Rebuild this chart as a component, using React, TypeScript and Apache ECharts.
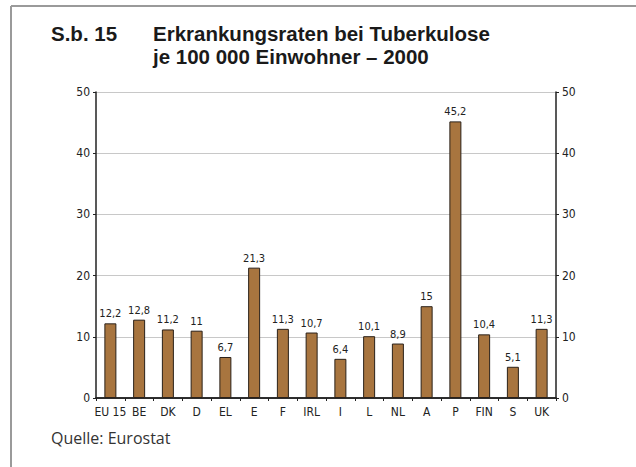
import React, { useEffect, useRef } from "react";
import * as echarts from "echarts";

const categories = ["EU 15", "BE", "DK", "D", "EL", "E", "F", "IRL", "I", "L", "NL", "A", "P", "FIN", "S", "UK"];
const values = [12.2, 12.8, 11.2, 11, 6.7, 21.3, 11.3, 10.7, 6.4, 10.1, 8.9, 15, 45.2, 10.4, 5.1, 11.3];
const yTicks = [0, 10, 20, 30, 40, 50];
const titleLine1Prefix = "S.b. 15";
const titleLine1 = "Erkrankungsraten bei Tuberkulose";
const titleLine2 = "je 100 000 Einwohner – 2000";
const sourceText = "Quelle: Eurostat";

const narrow = "'Liberation Sans Narrow', 'DejaVu Sans Condensed', 'Liberation Sans', sans-serif";
const sans = "'Open Sans', 'Noto Sans', sans-serif";
const titleFont = "'Liberation Sans', Arial, sans-serif";

export default function App() {
  const ref = useRef<HTMLDivElement>(null);
  useEffect(() => {
    if (!ref.current) return;
    const chart = echarts.init(ref.current, null, { renderer: "svg" });
    const fmt = (v: number) => String(v).replace(".", ",");
    chart.setOption({
      animation: false,
      backgroundColor: "#fff",
      grid: { left: 96, right: 80, top: 92, bottom: 69, containLabel: false },
      xAxis: [
        {
          type: "category",
          data: categories,
          position: "bottom",
          axisLine: { show: true, lineStyle: { color: "#222", width: 1.5 } },
          axisTick: { show: true, length: 3, alignWithLabel: false, lineStyle: { color: "#222" } },
          axisLabel: { color: "#222", fontSize: 12, fontFamily: narrow, margin: 8, interval: 0 },
        },
        {
          type: "category",
          data: categories,
          position: "top",
          axisLine: { show: true, lineStyle: { color: "#222", width: 1.5 } },
          axisTick: { show: false },
          axisLabel: { show: false },
        },
      ],
      yAxis: [
        {
          type: "value",
          min: yTicks[0],
          max: yTicks[yTicks.length - 1],
          interval: 10,
          position: "left",
          axisLine: { show: true, lineStyle: { color: "#222", width: 1.5 } },
          axisTick: { show: true, length: 3, lineStyle: { color: "#222" } },
          axisLabel: { color: "#222", fontSize: 12, fontFamily: narrow, margin: 6 },
          splitLine: { show: true, lineStyle: { color: "#c8c8c8", width: 1 } },
        },
        {
          type: "value",
          min: yTicks[0],
          max: yTicks[yTicks.length - 1],
          interval: 10,
          position: "right",
          axisLine: { show: true, lineStyle: { color: "#222", width: 1.5 } },
          axisTick: { show: true, length: 3, lineStyle: { color: "#222" } },
          axisLabel: { color: "#222", fontSize: 12, fontFamily: narrow, margin: 6 },
          splitLine: { show: false },
        },
      ],
      series: [
        {
          type: "bar",
          data: values,
          xAxisIndex: 0,
          yAxisIndex: 0,
          barWidth: 12,
          itemStyle: { color: "#a8753f", borderColor: "#2a2019", borderWidth: 1 },
          label: {
            show: true,
            position: "top",
            distance: 4,
            color: "#222",
            fontSize: 11,
            fontFamily: narrow,
            formatter: (p: any) => fmt(p.value),
          },
        },
      ],
      graphic: [
        { type: "line", shape: { x1: 11, y1: 6, x2: 636, y2: 6 }, style: { stroke: "#9a9a9a", lineWidth: 2 } },
        { type: "line", shape: { x1: 11, y1: 6, x2: 11, y2: 467 }, style: { stroke: "#9a9a9a", lineWidth: 2 } },
        {
          type: "text",
          left: 51,
          top: 22,
          style: { text: titleLine1Prefix, font: `bold 20.5px ${titleFont}`, lineHeight: 23, fill: "#1a1a1a" },
        },
        {
          type: "text",
          left: 153,
          top: 22,
          style: { text: titleLine1, font: `bold 20.5px ${titleFont}`, lineHeight: 23, fill: "#1a1a1a" },
        },
        {
          type: "text",
          left: 153,
          top: 45,
          style: { text: titleLine2, font: `bold 20.5px ${titleFont}`, lineHeight: 23, fill: "#1a1a1a" },
        },
        {
          type: "text",
          left: 51,
          top: 430,
          style: { text: sourceText, font: `16px ${sans}`, fill: "#333" },
        },
      ],
    });
    return () => chart.dispose();
  }, []);
  return (
    <div
      ref={ref}
      style={{ position: "fixed", left: 0, top: 0, width: 636, height: 467 }}
    />
  );
}
